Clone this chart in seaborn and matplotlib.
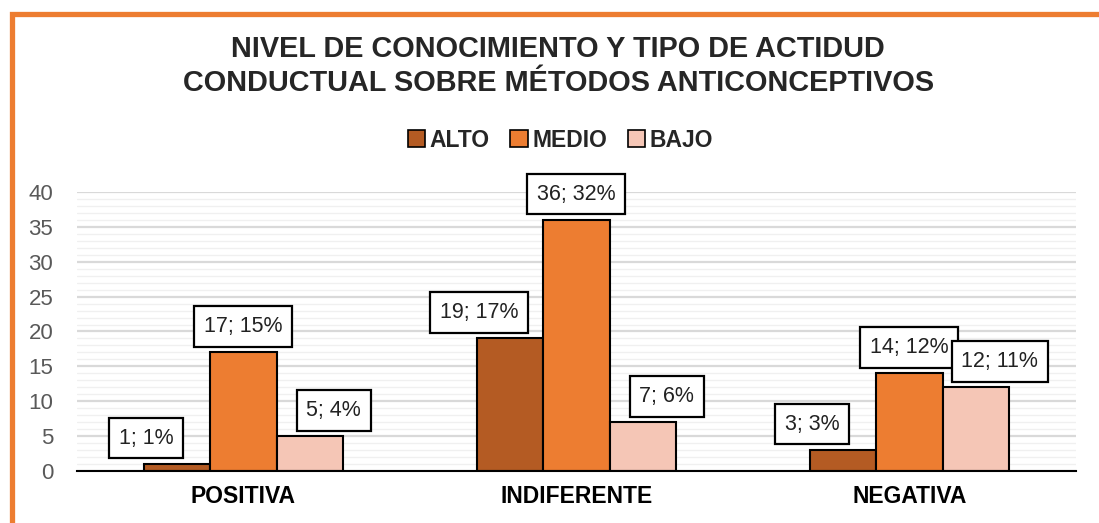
"""
Nivel de conocimiento y tipo de actitud conductual - grouped bar chart
"""

import numpy as np
import pandas as pd
import matplotlib
matplotlib.use('Agg')
import matplotlib.pyplot as plt
from matplotlib.patches import Patch, Rectangle
from matplotlib.ticker import MultipleLocator
import seaborn as sns

# Data
actitudes = ['POSITIVA', 'INDIFERENTE', 'NEGATIVA']
niveles = ['ALTO', 'MEDIO', 'BAJO']
alto = [1, 19, 3]
medio = [17, 36, 14]
bajo = [5, 7, 12]
alto_pct = [1, 17, 3]
medio_pct = [15, 32, 12]
bajo_pct = [4, 6, 11]

colores = ['#B45B23', '#ED7D31', '#F5C6B6']
FONT = ['Liberation Sans', 'DejaVu Sans']

df = pd.DataFrame({
    'actitud': actitudes * 3,
    'nivel': [n for n in niveles for _ in actitudes],
    'valor': alto + medio + bajo,
    'pct': alto_pct + medio_pct + bajo_pct,
})

sns.set_theme(style='white')
plt.rcParams['font.family'] = FONT

fig = plt.figure(figsize=(10.99, 5.23), dpi=100)
ax = fig.add_axes([0.070, 0.0994, 0.909, 0.5336])

sns.barplot(data=df, x='actitud', y='valor', hue='nivel', order=actitudes,
            hue_order=niveles, palette=colores, saturation=1, width=0.6, gap=0,
            edgecolor='black', linewidth=1.5, legend=False, ax=ax, zorder=3)

ax.set_ylim(0, 40)
ax.set_xlim(-0.5, 2.5)
ax.yaxis.set_major_locator(MultipleLocator(5))
ax.yaxis.set_minor_locator(MultipleLocator(1))
ax.grid(axis='y', which='minor', color='#F0F0F0', linewidth=1.0, zorder=0)
ax.grid(axis='y', which='major', color='#D9D9D9', linewidth=1.6, zorder=0)
ax.set_axisbelow(True)

for side in ['top', 'right', 'left']:
    ax.spines[side].set_visible(False)
ax.spines['bottom'].set_color('black')
ax.spines['bottom'].set_linewidth(1.5)
ax.spines['bottom'].set_zorder(4)

ax.set_xlabel('')
ax.set_ylabel('')
ax.tick_params(axis='y', which='both', length=0, pad=17, labelsize=16, labelcolor='#595959')
ax.tick_params(axis='x', length=0, pad=10)
for lbl in ax.get_xticklabels():
    lbl.set_fontweight('bold')
    lbl.set_fontsize(16.5)
    lbl.set_color('black')

# Data labels in boxes (horizontal nudge per series)
nudges = {'ALTO': -22, 'MEDIO': 0, 'BAJO': 17}
for container, nivel in zip(ax.containers, niveles):
    sub = df[df['nivel'] == nivel].set_index('actitud').loc[actitudes]
    for bar, val, pct in zip(container, sub['valor'], sub['pct']):
        ax.annotate(f'{val}; {pct}%',
                    xy=(bar.get_x() + bar.get_width() / 2, bar.get_height()),
                    xytext=(nudges[nivel], 11), textcoords='offset points',
                    ha='center', va='bottom', fontsize=15.5, color='#222222',
                    bbox=dict(boxstyle='square,pad=0.45', facecolor='white',
                              edgecolor='black', linewidth=1.6),
                    zorder=5, annotation_clip=False)

# Legend
handles = [Patch(facecolor=c, edgecolor='black', linewidth=1.2, label=n)
           for c, n in zip(colores, niveles)]
fig.legend(handles=handles, loc='center', bbox_to_anchor=(0.51, 0.732), ncol=3,
           frameon=False, prop={'weight': 'bold', 'size': 16.5, 'family': FONT},
           handlelength=0.75, handleheight=0.75, handletextpad=0.2, columnspacing=0.9)

# Title
fig.text(0.508, 0.874, 'NIVEL DE CONOCIMIENTO Y TIPO DE ACTIDUD\nCONDUCTUAL SOBRE MÉTODOS ANTICONCEPTIVOS',
         ha='center', va='center', fontsize=20.8, fontweight='bold', linespacing=1.3)

# Orange frame (partly cut off, like the reference)
fig.patches.append(Rectangle((11.5 / 1099, -0.2), 1.2, 1.2 - 13.5 / 523,
                             transform=fig.transFigure, fill=False,
                             edgecolor='#ED7D31', linewidth=3.8, zorder=10))

fig.savefig('out.png', dpi=100)
plt.close(fig)
